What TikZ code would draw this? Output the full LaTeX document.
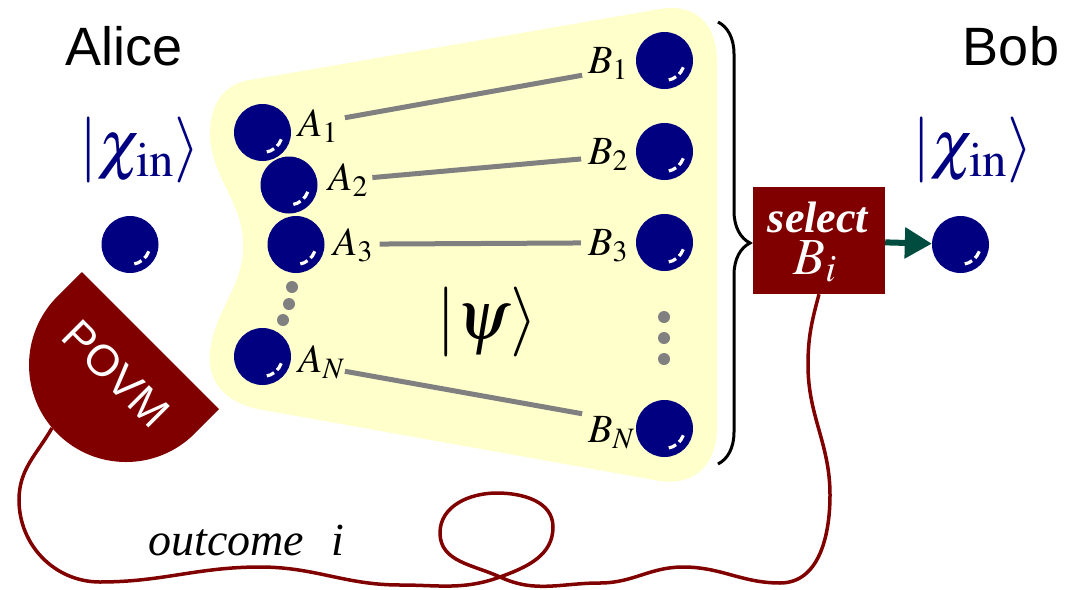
\documentclass[tikz,border=0pt]{standalone}
\usepackage{mathptmx}
\usepackage[no-math]{fontspec}
\setmainfont{Liberation Serif}
\setsansfont{Liberation Sans}
\usetikzlibrary{arrows.meta, decorations.pathreplacing}
\definecolor{qblue}{RGB}{0,0,128}
\definecolor{wirered}{RGB}{128,0,0}
\definecolor{paleyellow}{RGB}{255,255,204}
\definecolor{darkteal}{RGB}{0,77,64}

\begin{document}
\begin{tikzpicture}[x=1pt, y=-1pt,
  qubit/.style={circle, fill=qblue, minimum size=57pt, inner sep=0pt,
    path picture={\draw[white, line width=3.2pt, dash pattern=on 8pt off 4pt]
      ([shift={(-20:20pt)}]path picture bounding box.center)
      arc[start angle=-20, end angle=-82, radius=20pt];}},
  link/.style={draw=gray, line width=5pt, shorten <=55pt, shorten >=55pt},
  lbl/.style={anchor=base west, inner sep=0pt, font=\fontsize{40}{40}\selectfont},
  ket/.style={text=qblue, inner sep=0pt, font=\fontsize{66}{66}\selectfont},
  party/.style={anchor=base, font=\sffamily\fontsize{54}{54}\selectfont},
  wire/.style={draw=wirered, line width=3.5pt}]
  \useasboundingbox (0,0) rectangle (1068,589);
  % shared state |psi>
  \fill[paleyellow] (250,80) -- (660,9) .. controls (697,3) and (717,25) .. (717,62)
    -- (717,428) .. controls (717,462) and (697,486) .. (660,481)
    -- (263,410) .. controls (228,404) and (207,385) .. (210,352)
    .. controls (214,310) and (246,285) .. (243,240)
    .. controls (241,200) and (210,175) .. (210,133)
    .. controls (210,100) and (228,83) .. (250,80) -- cycle;
  \node[font=\fontsize{70}{70}\selectfont, inner sep=0pt] (psi) at (487,322) {$|\psi\rangle$};
  % Alice's and Bob's halves
  \node[qubit] (a1) at (262.5,132.5) {};
  \node[qubit] (a2) at (289,185) {};
  \node[qubit] (a3) at (296,244.5) {};
  \node[qubit] (aN) at (262.5,356.5) {};
  \node[qubit] (b1) at (664.5,60.5) {};
  \node[qubit] (b2) at (664.5,151.5) {};
  \node[qubit] (b3) at (664.5,242.5) {};
  \node[qubit] (bN) at (664.5,428.5) {};
  \foreach \u/\v in {a1/b1, a2/b2, a3/b3, aN/bN}
    \draw[link] (\u) -- (\v);
  \foreach \x/\y in {292/287, 289/304, 283/320, 664/317, 664/338, 664/359}
    \fill[gray] (\x,\y) circle[radius=6];
  \node[lbl] (a1l) at (298,136) {$A_1$};
  \node[lbl] (a2l) at (328,190) {$A_2$};
  \node[lbl] (a3l) at (333,255) {$A_3$};
  \node[lbl] (aNl) at (298,372) {$A_N$};
  \node[lbl] (b1l) at (588,73) {$B_1$};
  \node[lbl] (b2l) at (588,164) {$B_2$};
  \node[lbl] (b3l) at (588,255) {$B_3$};
  \node[lbl] (bNl) at (588,442) {$B_N$};
  \draw[line width=3pt, decorate, decoration={brace, amplitude=32pt}] (718,22) -- (718,464);
  % Alice
  \node[party] (alice) at (124,65) {Alice};
  \node[ket] (chia) at (140,150) {$|\chi_{\mathrm{in}}\rangle$};
  \node[qubit] (aliceq) at (130,244.5) {};
  \fill[wirered] (82,272) -- (219,409) -- (194.6,433.6)
    arc[start angle=45, end angle=225, radius=97] -- cycle;
  \node[rotate=-45, text=white, inner sep=0pt, font=\sffamily\fontsize{44}{44}\selectfont] (povm) at (116,374) {POVM};
  \coordinate (povmout) at (52,428);
  % Bob
  \node[party] (bob) at (1011,65) {Bob};
  \node[ket] (chib) at (973,150) {$|\chi_{\mathrm{in}}\rangle$};
  \node[qubit] (bobq) at (960.5,244.5) {};
  \node[fill=wirered, minimum width=132pt, minimum height=107pt, inner sep=0pt] (sel) at (819,240.5) {};
  \node[anchor=base, text=white, font=\fontsize{44}{44}\selectfont\bfseries\itshape] (selt) at (818,232) {select};
  \node[anchor=base, text=white, font=\fontsize{52}{52}\selectfont] (selb) at (815,274) {$B_i$};
  \draw[darkteal, line width=6pt, -{Triangle[length=27pt, width=30pt]}] (sel) -- (bobq);
  % classical channel
  \draw[wire] (povmout) to[out=-120, in=90] (19,500) to[out=-90, in=180] (100,582)
    to[out=0, in=180] (260,567) to[out=0, in=180] (400,585)
    to[out=0, in=200] (500,577) to[out=20, in=-90] (553,527)
    to[out=90, in=0] (497,493) to[out=180, in=90] (440,533)
    to[out=-90, in=155] (500,577) to[out=-25, in=180] (600,583)
    to[out=0, in=180] (683,567) to[out=0, in=180] (780,583)
    to[out=0, in=-90] (830,495) to[out=90, in=-90] (808,365)
    to[out=90, in=-105] (sel.south);
  \node[anchor=base west, font=\fontsize{46}{46}\selectfont\itshape] (outcome) at (145,555) {outcome\hspace{0.6em}i};
\end{tikzpicture}
\end{document}
